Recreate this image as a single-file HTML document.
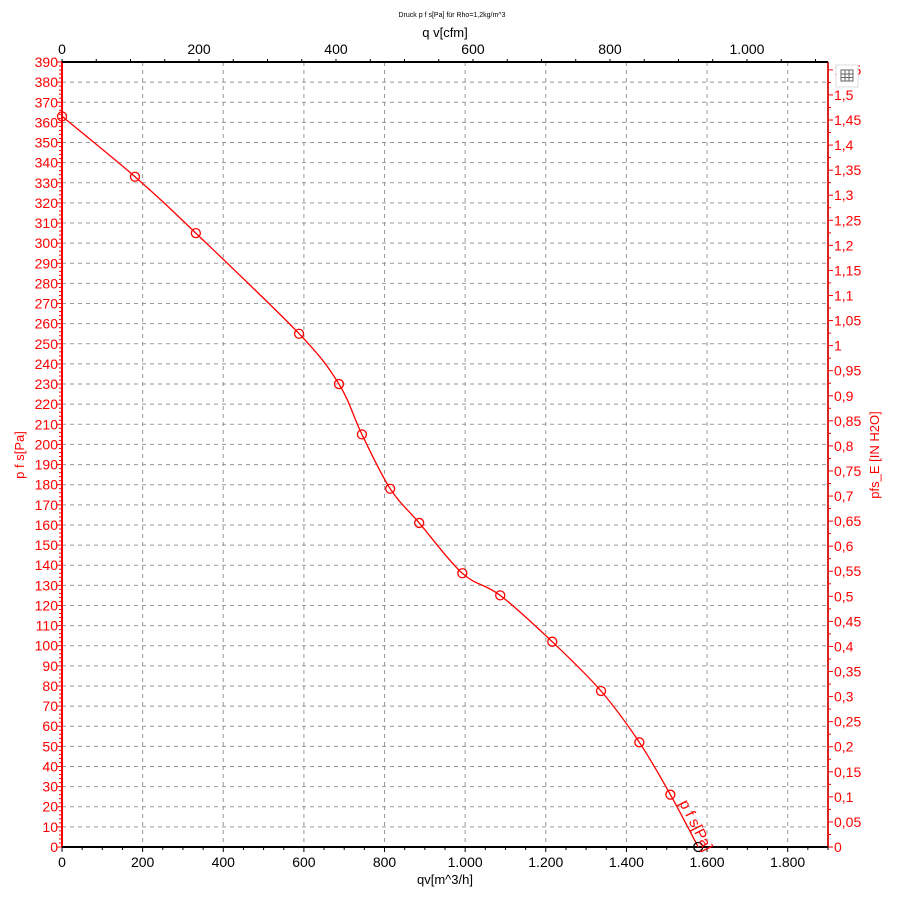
<!DOCTYPE html>
<html><head><meta charset="utf-8"><style>
body{margin:0;background:#fff;font-family:"Liberation Sans",sans-serif}
svg text{font-family:"Liberation Sans",sans-serif}
</style></head><body>
<svg id="chart" width="903" height="905" xmlns="http://www.w3.org/2000/svg">
<text x="452" y="17" font-size="7" text-anchor="middle">Druck p f s[Pa] für Rho=1,2kg/m^3</text>
<text x="445" y="37" font-size="13" text-anchor="middle">q v[cfm]</text>
<text x="445" y="884" font-size="13" text-anchor="middle">qv[m^3/h]</text>
<text transform="translate(24,455) rotate(-90)" font-size="13" fill="#f00" text-anchor="middle">p f s[Pa]</text>
<text transform="translate(879,455) rotate(-90)" font-size="13" fill="#f00" text-anchor="middle">pfs_E [IN H2O]</text>
<g id="grid"></g><g id="axes"></g><g id="series"></g>
<g>
<rect x="836" y="65" width="22" height="22" fill="#fff" stroke="#ddd"/>
<rect x="841" y="70" width="12" height="11" fill="none" stroke="#666"/>
<line x1="841" y1="74" x2="853" y2="74" stroke="#666"/><line x1="841" y1="77.5" x2="853" y2="77.5" stroke="#666"/>
<line x1="845" y1="70" x2="845" y2="81" stroke="#666"/><line x1="849" y1="70" x2="849" y2="81" stroke="#666"/>
</g>
</svg>
<script>
const flowValues=[0,181,332,588,687,744,814,886,993,1087,1216,1337,1432,1509,1578];
const pressureValues=[363,333,305,255,230,205,178,161,136,125,102,77.5,52,26,0];
const bottomTicks=[0,200,400,600,800,1000,1200,1400,1600,1800];
const bottomTickLabels=["0","200","400","600","800","1.000","1.200","1.400","1.600","1.800"];
const topTicks=[0,200,400,600,800,1000];
const topTickLabels=["0","200","400","600","800","1.000"];
const L=62,R=828,T=62,B=847,XMAX=1900,YMAX=390,CFM=1.699,INH2O=249.09;
const xS=v=>L+v/XMAX*(R-L), yS=v=>B-v/YMAX*(B-T);
const NS="http://www.w3.org/2000/svg";
const FS=14;
function mk(p,t,a){const e=document.createElementNS(NS,t);for(const k in a)e.setAttribute(k,a[k]);p.appendChild(e);return e;}
const grid=document.getElementById('grid'),axes=document.getElementById('axes'),ser=document.getElementById('series');
for(let v=10;v<YMAX;v+=10){const l=mk(grid,'line',{x1:L,x2:R,y1:yS(v),y2:yS(v),stroke:'#999','stroke-dasharray':'4,4'});

}
bottomTicks.forEach((v,i)=>{if(v>0){const g=mk(grid,'line',{x1:xS(v),x2:xS(v),y1:T,y2:B,stroke:'#999','stroke-dasharray':'4,4'});

}
const t=mk(axes,'text',{x:xS(v),y:B+20,'font-size':FS,'text-anchor':'middle'});t.textContent=bottomTickLabels[i];

});
for(let v=0;v<=XMAX;v+=50)mk(axes,'line',{x1:xS(v),x2:xS(v),y1:B,y2:B+(v%200?3:5),stroke:'#000'});
topTicks.forEach((v,i)=>{const t=mk(axes,'text',{x:xS(v*CFM),y:T-8,'font-size':FS,'text-anchor':'middle'});t.textContent=topTickLabels[i];

});
for(let v=0;v*CFM<=XMAX;v+=50)mk(axes,'line',{x1:xS(v*CFM),x2:xS(v*CFM),y1:T,y2:T-3,stroke:'#000'});
for(let v=0;v<=YMAX;v+=2)mk(axes,'line',{x1:L,x2:L-(v%10?3:5),y1:yS(v),y2:yS(v),stroke:'#f00'});
for(let v=0;v<=YMAX;v+=10){const t=mk(axes,'text',{x:L-4,y:yS(v)+5,'font-size':FS,fill:'#f00','text-anchor':'end'});t.textContent=v;

}
for(let k=0;k<=31;k++){const v=k*0.05*INH2O;if(v>YMAX)break;mk(axes,'line',{x1:R,x2:R+5,y1:yS(v),y2:yS(v),stroke:'#f00'});
const v2=(k*0.05+0.025)*INH2O;if(v2<YMAX)mk(axes,'line',{x1:R,x2:R+3,y1:yS(v2),y2:yS(v2),stroke:'#f00'});
const t=mk(axes,'text',{x:R+6,y:yS(v)+5,'font-size':FS,fill:'#f00'});t.textContent=(Math.round(k*5)/100).toString().replace('.',',');

}
mk(axes,'line',{x1:L,x2:L,y1:T,y2:B,stroke:'#f00','stroke-width':2});
mk(axes,'line',{x1:R,x2:R,y1:T,y2:B,stroke:'#d22','stroke-width':2});
mk(axes,'line',{x1:L,x2:R,y1:T,y2:T,stroke:'#000','stroke-width':2});
mk(axes,'line',{x1:L,x2:R,y1:B,y2:B,stroke:'#000','stroke-width':2});
// smooth Catmull-Rom curve
const P=flowValues.map((f,i)=>[xS(f),yS(pressureValues[i])]);
let d='M'+P[0][0].toFixed(1)+','+P[0][1].toFixed(1);
for(let i=0;i<P.length-1;i++){const p0=P[Math.max(0,i-1)],p1=P[i],p2=P[i+1],p3=P[Math.min(P.length-1,i+2)];
const c1=[p1[0]+(p2[0]-p0[0])/6,p1[1]+(p2[1]-p0[1])/6],c2=[p2[0]-(p3[0]-p1[0])/6,p2[1]-(p3[1]-p1[1])/6];
d+=`C${c1[0].toFixed(1)},${c1[1].toFixed(1)} ${c2[0].toFixed(1)},${c2[1].toFixed(1)} ${p2[0].toFixed(1)},${p2[1].toFixed(1)}`;}
const p=mk(ser,'path',{d:d,fill:'none',stroke:'#f00','stroke-width':1.3});


flowValues.forEach((f,i)=>{const c=mk(ser,'circle',{cx:xS(f),cy:yS(pressureValues[i]),r:4.5,fill:'none',stroke:i==flowValues.length-1?'#000':'#f00','stroke-width':1.3});

});
const n=flowValues.length-1;
const lbl=mk(ser,'text',{transform:`translate(${xS(flowValues[n])-19},${yS(pressureValues[n])-44}) rotate(63)`,'font-size':15,fill:'#f00'});
lbl.textContent='p f s[Pa]';


</script>
</body></html>
